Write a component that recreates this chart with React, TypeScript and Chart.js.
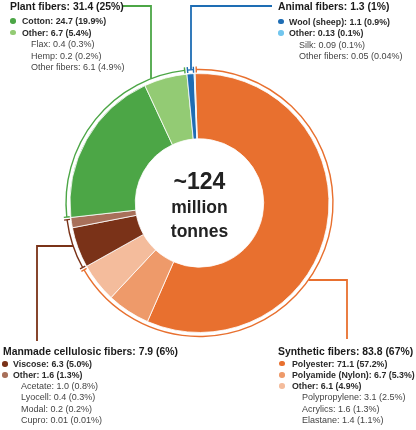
import React, { useEffect, useRef } from 'react';
import { Chart, registerables } from 'chart.js';

Chart.register(...registerables);

// ---------- data ----------
const fiberLabels = [
  'Polyester',
  'Polyamide (Nylon)',
  'Other synthetic',
  'Viscose',
  'Other manmade cellulosic',
  'Cotton',
  'Other plant',
  'Wool (sheep)',
  'Other animal',
];
const fiberValues = [71.1, 6.7, 6.1, 6.3, 1.6, 24.7, 6.7, 1.1, 0.13];
const fiberColors = [
  '#e8702f',
  '#ee9a6a',
  '#f4bc9c',
  '#7a3218',
  '#a8705a',
  '#4ca646',
  '#93cb74',
  '#1e6db4',
  '#72c6ee',
];

const groupLabels = ['Synthetic fibers', 'Manmade cellulosic fibers', 'Plant fibers', 'Animal fibers'];
const groupValues = [83.8, 7.9, 31.4, 1.3];
const groupColors = ['#e8702f', '#7a3218', '#4ca646', '#1e6db4'];

const plantTitle = 'Plant fibers: 31.4 (25%)';
const plantItems = ['Cotton: 24.7 (19.9%)', 'Other: 6.7 (5.4%)'];
const plantItemColors = ['#4ca646', '#93cb74'];
const plantSubs = ['Flax: 0.4 (0.3%)', 'Hemp: 0.2 (0.2%)', 'Other fibers: 6.1 (4.9%)'];

const animalTitle = 'Animal fibers: 1.3 (1%)';
const animalItems = ['Wool (sheep): 1.1 (0.9%)', 'Other: 0.13 (0.1%)'];
const animalItemColors = ['#1e6db4', '#72c6ee'];
const animalSubs = ['Silk: 0.09 (0.1%)', 'Other fibers: 0.05 (0.04%)'];

const manmadeTitle = 'Manmade cellulosic fibers: 7.9 (6%)';
const manmadeItems = ['Viscose: 6.3 (5.0%)', 'Other: 1.6 (1.3%)'];
const manmadeItemColors = ['#7a3218', '#a8705a'];
const manmadeSubs = ['Acetate: 1.0 (0.8%)', 'Lyocell: 0.4 (0.3%)', 'Modal: 0.2 (0.2%)', 'Cupro: 0.01 (0.01%)'];

const synthTitle = 'Synthetic fibers: 83.8 (67%)';
const synthItems = ['Polyester: 71.1 (57.2%)', 'Polyamide (Nylon): 6.7 (5.3%)', 'Other: 6.1 (4.9%)'];
const synthItemColors = ['#e8702f', '#ee9a6a', '#f4bc9c'];
const synthSubs = ['Polypropylene: 3.1 (2.5%)', 'Acrylics: 1.6 (1.3%)', 'Elastane: 1.4 (1.1%)'];

const centerLines = ['~124', 'million', 'tonnes'];

// ---------- layout ----------
const W = 416;
const H = 430;
const FONT = '"Liberation Sans", Arial, Helvetica, sans-serif';
const RING_W = 8;
const DONUT_W = 65;

type Leader =
  | { kind: 'v'; x: number; toY: number; toX: number }
  | { kind: 'h'; y: number; side: 1 | -1; toX: number; toY: number };

// one leader per group (same order as groupValues)
const leaders: Leader[] = [
  { kind: 'h', y: 280, side: 1, toX: 347, toY: 339 },
  { kind: 'h', y: 246, side: -1, toX: 37, toY: 341 },
  { kind: 'v', x: 151, toY: 6, toX: 122 },
  { kind: 'v', x: 191, toY: 6, toX: 272 },
];

const bracketPlugin = {
  id: 'brackets',
  afterDatasetsDraw(chart: any) {
    const meta = chart.getDatasetMeta(0);
    const ctx: CanvasRenderingContext2D = chart.ctx;
    meta.data.forEach((arc: any, i: number) => {
      const p = arc.getProps(['x', 'y', 'startAngle', 'endAngle', 'innerRadius', 'outerRadius'], true);
      const r = p.innerRadius + 4;
      const gap = 1.4 / r;
      const a0 = p.startAngle + gap;
      const a1 = p.endAngle - gap;
      ctx.save();
      ctx.strokeStyle = groupColors[i];
      ctx.lineWidth = 1.4;
      ctx.beginPath();
      ctx.arc(p.x, p.y, r, a0, a1);
      ctx.stroke();
      for (const a of [a0, a1]) {
        ctx.beginPath();
        ctx.moveTo(p.x + Math.cos(a) * (r - 3), p.y + Math.sin(a) * (r - 3));
        ctx.lineTo(p.x + Math.cos(a) * (r + 3), p.y + Math.sin(a) * (r + 3));
        ctx.stroke();
      }
      // leader line
      const L = leaders[i];
      ctx.lineWidth = 1.8;
      ctx.beginPath();
      if (L.kind === 'v') {
        const dx = L.x - p.x;
        const y0 = p.y - Math.sqrt(Math.max(r * r - dx * dx, 0));
        ctx.moveTo(L.x, y0);
        ctx.lineTo(L.x, L.toY);
        ctx.lineTo(L.toX, L.toY);
      } else {
        const dy = L.y - p.y;
        const x0 = p.x + L.side * Math.sqrt(Math.max(r * r - dy * dy, 0));
        ctx.moveTo(x0, L.y);
        ctx.lineTo(L.toX, L.y);
        ctx.lineTo(L.toX, L.toY);
      }
      ctx.stroke();
      ctx.restore();
    });
  },
};

type BlockProps = {
  x: number;
  y: number;
  title: string;
  items: string[];
  colors: string[];
  subs: string[];
  dotDx: number;
  itemDx: number;
  subDx: number;
  gap: number;
  row: number;
};

function Block(b: BlockProps) {
  const lineH = 12;
  const els: React.ReactNode[] = [];
  els.push(
    <div
      key="t"
      style={{
        position: 'absolute',
        left: b.x,
        top: b.y - lineH / 2,
        height: lineH,
        lineHeight: lineH + 'px',
        fontSize: 10.4,
        fontWeight: 700,
        color: '#1a1a1a',
        whiteSpace: 'nowrap',
      }}
    >
      {b.title}
    </div>
  );
  let k = 0;
  b.items.forEach((t, i) => {
    const cy = b.y + b.gap + k * b.row;
    k++;
    els.push(
      <div
        key={'d' + i}
        style={{
          position: 'absolute',
          left: b.x + b.dotDx - 2.8,
          top: cy - 2.8,
          width: 5.6,
          height: 5.6,
          borderRadius: '50%',
          background: b.colors[i],
        }}
      />
    );
    els.push(
      <div
        key={'i' + i}
        style={{
          position: 'absolute',
          left: b.x + b.itemDx,
          top: cy - lineH / 2,
          height: lineH,
          lineHeight: lineH + 'px',
          fontSize: 8.8,
          fontWeight: 700,
          color: '#2a2a2a',
          whiteSpace: 'nowrap',
        }}
      >
        {t}
      </div>
    );
  });
  b.subs.forEach((t, i) => {
    const cy = b.y + b.gap + k * b.row;
    k++;
    els.push(
      <div
        key={'s' + i}
        style={{
          position: 'absolute',
          left: b.x + b.subDx,
          top: cy - lineH / 2,
          height: lineH,
          lineHeight: lineH + 'px',
          fontSize: 9,
          fontWeight: 400,
          color: '#444',
          whiteSpace: 'nowrap',
        }}
      >
        {t}
      </div>
    );
  });
  return <>{els}</>;
}

export default function App() {
  const ref = useRef<HTMLCanvasElement>(null);
  useEffect(() => {
    const chart = new Chart(ref.current as HTMLCanvasElement, {
      type: 'doughnut',
      data: {
        labels: fiberLabels,
        datasets: [
          {
            label: 'Groups',
            data: groupValues,
            backgroundColor: 'rgba(0,0,0,0)',
            borderWidth: 0,
            hoverBorderWidth: 0,
            weight: RING_W,
          } as any,
          {
            label: 'Fibers',
            data: fiberValues,
            backgroundColor: fiberColors,
            borderColor: '#ffffff',
            borderWidth: 0.8,
            hoverBorderWidth: 0.8,
            weight: DONUT_W,
          } as any,
        ],
      },
      options: {
        responsive: false,
        maintainAspectRatio: false,
        animation: false,
        events: [],
        cutout: '46.7%',
        rotation: -2,
        layout: { padding: { left: 62, top: 65.5, right: 79, bottom: 89.5 } },
        plugins: { legend: { display: false }, tooltip: { enabled: false } },
      } as any,
      plugins: [bracketPlugin],
    });
    return () => chart.destroy();
  }, []);

  const centerStyle = (cy: number, size: number): React.CSSProperties => ({
    position: 'absolute',
    left: 99.5,
    width: 200,
    top: cy - size * 0.6,
    height: size * 1.2,
    lineHeight: size * 1.2 + 'px',
    textAlign: 'center',
    fontSize: size,
    fontWeight: 700,
    color: '#222',
  });

  return (
    <div
      style={{
        position: 'absolute',
        left: 0,
        top: 0,
        width: W,
        height: H,
        background: '#fff',
        fontFamily: FONT,
        overflow: 'hidden',
      }}
    >
      <canvas ref={ref} width={W} height={H} style={{ position: 'absolute', left: 0, top: 0, width: W, height: H }} />
      <div style={centerStyle(182, 23)}>{centerLines[0]}</div>
      <div style={centerStyle(207.5, 17.5)}>{centerLines[1]}</div>
      <div style={centerStyle(231.5, 17.5)}>{centerLines[2]}</div>
      <Block x={10} y={7} title={plantTitle} items={plantItems} colors={plantItemColors} subs={plantSubs} dotDx={3} itemDx={12} subDx={21} gap={14} row={11.5} />
      <Block x={278} y={7} title={animalTitle} items={animalItems} colors={animalItemColors} subs={animalSubs} dotDx={3} itemDx={11} subDx={21} gap={14.5} row={11.5} />
      <Block x={3} y={352} title={manmadeTitle} items={manmadeItems} colors={manmadeItemColors} subs={manmadeSubs} dotDx={2} itemDx={10} subDx={18} gap={11.8} row={11.2} />
      <Block x={278} y={352} title={synthTitle} items={synthItems} colors={synthItemColors} subs={synthSubs} dotDx={4} itemDx={14} subDx={24} gap={11.5} row={11.3} />
    </div>
  );
}
